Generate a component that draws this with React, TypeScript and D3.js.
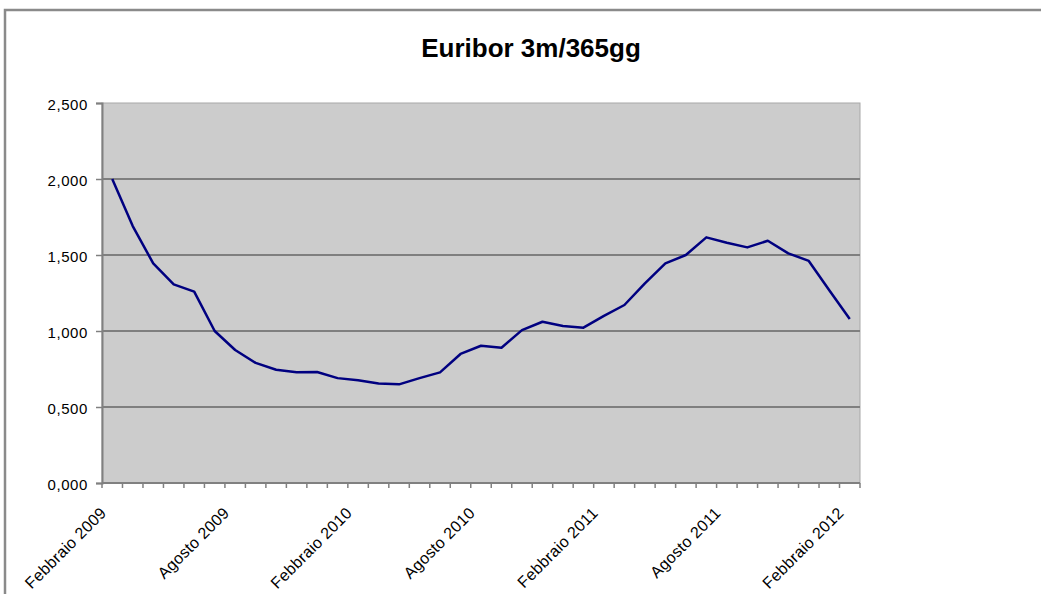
import React, { useEffect, useRef } from "react";
import * as d3 from "d3";

const months = [
  "Febbraio 2009", "Marzo 2009", "Aprile 2009", "Maggio 2009", "Giugno 2009", "Luglio 2009",
  "Agosto 2009", "Settembre 2009", "Ottobre 2009", "Novembre 2009", "Dicembre 2009", "Gennaio 2010",
  "Febbraio 2010", "Marzo 2010", "Aprile 2010", "Maggio 2010", "Giugno 2010", "Luglio 2010",
  "Agosto 2010", "Settembre 2010", "Ottobre 2010", "Novembre 2010", "Dicembre 2010", "Gennaio 2011",
  "Febbraio 2011", "Marzo 2011", "Aprile 2011", "Maggio 2011", "Giugno 2011", "Luglio 2011",
  "Agosto 2011", "Settembre 2011", "Ottobre 2011", "Novembre 2011", "Dicembre 2011", "Gennaio 2012",
  "Febbraio 2012",
];

const euribor = [
  2.0, 1.69, 1.445, 1.307, 1.259, 1.0,
  0.875, 0.79, 0.745, 0.728, 0.73, 0.69,
  0.676, 0.655, 0.649, 0.69, 0.728, 0.849,
  0.903, 0.89, 1.006, 1.061, 1.033, 1.022,
  1.1, 1.171, 1.314, 1.445, 1.5, 1.616,
  1.581, 1.55, 1.594, 1.511, 1.461, 1.268,
  1.079,
];

const yTicks = [0, 0.5, 1, 1.5, 2, 2.5];
const labelEvery = 6;

const W = 1041;
const H = 594;
const left = 102;
const right = 860;
const top = 103;
const bottom = 483;

const App = () => {
  const svgRef = useRef<SVGSVGElement>(null);

  useEffect(() => {
    const svg = d3.select(svgRef.current);
    svg.selectAll("*").remove();

    const x = d3.scaleBand().domain(months).range([left, right]).padding(0);
    const y = d3.scaleLinear().domain([0, 2.5]).range([bottom, top]);
    const fmt = (v: number) => d3.format(".3f")(v).replace(".", ",");

    // frame
    svg.append("path")
      .attr("d", `M5,${H} V10 H${W}`)
      .attr("fill", "none")
      .attr("stroke", "#8a8a8a")
      .attr("stroke-width", 2.5);

    // title
    svg.append("text")
      .attr("x", 531)
      .attr("y", 57)
      .attr("text-anchor", "middle")
      .attr("font-family", "Liberation Sans, Arial, sans-serif")
      .attr("font-weight", "bold")
      .attr("font-size", 26)
      .text("Euribor 3m/365gg");

    // plot area
    svg.append("rect")
      .attr("x", left)
      .attr("y", top)
      .attr("width", right - left)
      .attr("height", bottom - top)
      .attr("fill", "#cccccc")
      .attr("stroke", "#a8a8a8")
      .attr("stroke-width", 1);

    // gridlines
    svg.append("g")
      .selectAll("line")
      .data(yTicks.filter((t) => t > 0 && t < 2.5))
      .join("line")
      .attr("x1", left)
      .attr("x2", right)
      .attr("y1", (d) => y(d))
      .attr("y2", (d) => y(d))
      .attr("stroke", "#7f7f7f")
      .attr("stroke-width", 2);

    // y axis
    const yAxis = d3.axisLeft(y).tickValues(yTicks).tickSize(6).tickPadding(8).tickFormat((d) => fmt(+d));
    const gy = svg.append("g").attr("transform", `translate(${left},0)`).call(yAxis);
    gy.select(".domain").attr("stroke", "#808080").attr("stroke-width", 2);
    gy.selectAll(".tick line").attr("stroke", "#808080").attr("stroke-width", 1.5);
    gy.selectAll(".tick text")
      .attr("font-family", "Liberation Sans, Arial, sans-serif")
      .attr("font-size", 15)
      .attr("letter-spacing", 0.6)
      .attr("dy", "0.4em")
      .attr("fill", "#000");

    // x axis ticks at band edges
    const edges = d3.range(months.length + 1).map((i) => left + i * x.step());
    svg.append("line")
      .attr("x1", left)
      .attr("x2", right)
      .attr("y1", bottom)
      .attr("y2", bottom)
      .attr("stroke", "#808080")
      .attr("stroke-width", 2);
    svg.append("g")
      .selectAll("line")
      .data(edges)
      .join("line")
      .attr("x1", (d) => d)
      .attr("x2", (d) => d)
      .attr("y1", bottom)
      .attr("y2", bottom + 5)
      .attr("stroke", "#808080")
      .attr("stroke-width", 1.5);

    svg.append("g")
      .selectAll("text")
      .data(months.filter((_, i) => i % labelEvery === 0))
      .join("text")
      .attr("transform", (d) => `translate(${(x(d) as number) + x.bandwidth() / 2 - 5},514) rotate(-45)`)
      .attr("text-anchor", "end")
      .attr("font-family", "Liberation Sans, Arial, sans-serif")
      .attr("font-size", 16)
      .attr("letter-spacing", 0.3)
      .attr("fill", "#000")
      .text((d) => d);

    // line
    const line = d3.line<number>()
      .x((_, i) => (x(months[i]) as number) + x.bandwidth() / 2)
      .y((d) => y(d));
    svg.append("path")
      .datum(euribor)
      .attr("d", line)
      .attr("fill", "none")
      .attr("stroke", "#000080")
      .attr("stroke-width", 2.5)
      .attr("stroke-linejoin", "round");
  }, []);

  return (
    <svg
      ref={svgRef}
      width={W}
      height={H}
      style={{ position: "absolute", left: 0, top: 0, background: "#fff" }}
    />
  );
};

export default App;
